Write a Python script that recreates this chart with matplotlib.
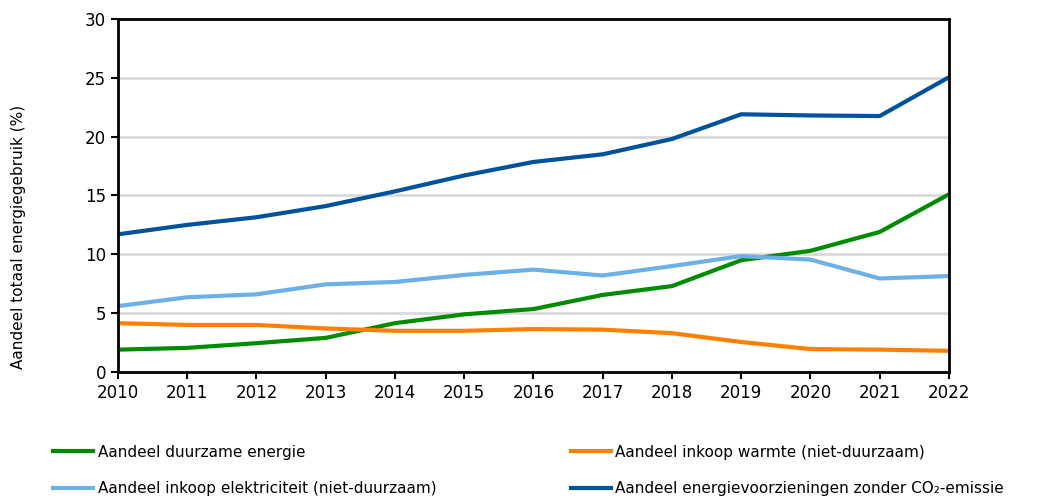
import matplotlib.pyplot as plt

# Data
years = list(range(2010, 2023))
duurzaam = [1.9, 2.05, 2.45, 2.9, 4.15, 4.9, 5.35, 6.55, 7.3, 9.5, 10.3, 11.9, 15.1]
warmte = [4.15, 4.0, 4.0, 3.7, 3.5, 3.5, 3.65, 3.6, 3.3, 2.55, 1.95, 1.9, 1.8]
elektriciteit = [5.6, 6.35, 6.6, 7.45, 7.65, 8.25, 8.7, 8.2, 9.0, 9.85, 9.55, 7.95, 8.15]
zonder_co2 = [11.7, 12.5, 13.15, 14.1, 15.35, 16.7, 17.85, 18.5, 19.8, 21.9, 21.8, 21.75, 25.05]

labels = ['Aandeel duurzame energie',
          'Aandeel inkoop warmte (niet-duurzaam)',
          'Aandeel inkoop elektriciteit (niet-duurzaam)',
          'Aandeel energievoorzieningen zonder CO₂-emissie']
colors = ['#008C00', '#FF7F00', '#6CB0E8', '#00529C']

plt.rcParams['font.family'] = 'DejaVu Sans'

fig = plt.figure(figsize=(10.42, 4.99), dpi=100)
ax = fig.add_axes([0.1132, 0.2545, 0.7975, 0.7075])

lines = []
for vals, lab, col in zip([duurzaam, warmte, elektriciteit, zonder_co2], labels, colors):
    l, = ax.plot(years, vals, color=col, linewidth=3, label=lab, solid_capstyle='butt')
    lines.append(l)

ax.set_xlim(2010, 2022)
ax.set_ylim(0, 30)
ax.set_xticks(years)
ax.set_yticks(range(0, 31, 5))
ax.tick_params(axis='both', labelsize=12, direction='out', length=5, width=1.5)
ax.yaxis.grid(True, color='#d9d9d9', linewidth=2)
ax.set_axisbelow(True)
for s in ax.spines.values():
    s.set_linewidth(2)
ax.set_ylabel('Aandeel totaal energiegebruik (%)', fontsize=11)
ax.yaxis.set_label_coords(-0.111, 0.382)

# legend in two columns below the plot (filled column-wise)
order = [0, 2, 1, 3]
fig.legend([lines[i] for i in order], [labels[i] for i in order],
           ncol=2, loc='upper left', bbox_to_anchor=(0.043, 0.121),
           frameon=False, fontsize=11, handlelength=2.9, handletextpad=0.15,
           columnspacing=8.67, labelspacing=1.4, borderaxespad=0)

plt.savefig('out.png', dpi=100)
